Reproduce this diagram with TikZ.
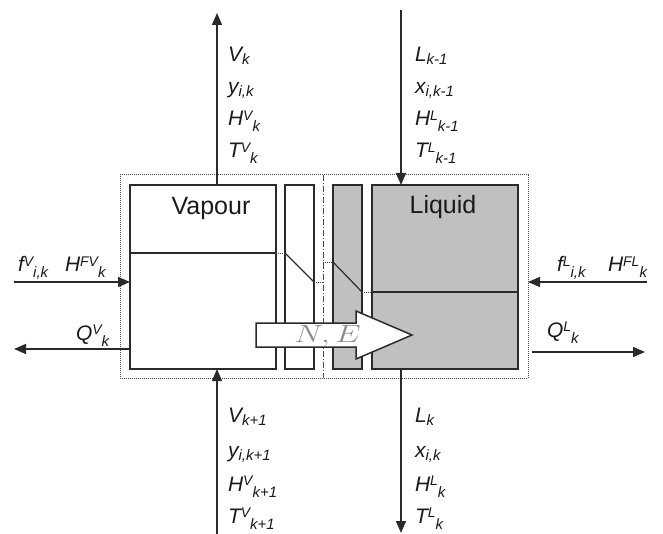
\documentclass[tikz,border=0pt]{standalone}
\usepackage{fontspec}
\setmainfont{Liberation Sans}
\usetikzlibrary{arrows.meta}
\definecolor{linec}{HTML}{2A2A2A}
\definecolor{txtc}{HTML}{1A1A1A}
\definecolor{grayfill}{HTML}{C0C0C0}
\definecolor{dotc}{HTML}{4A4A4A}
\newcommand{\ssub}[1]{\raisebox{-3pt}{\fontsize{15}{15}\selectfont #1}}
\newcommand{\dsub}[1]{\raisebox{-6pt}{\fontsize{15}{15}\selectfont #1}}
\newcommand{\ssup}[1]{\raisebox{5.5pt}{\fontsize{14}{14}\selectfont #1}}
\begin{document}
\begin{tikzpicture}[x=1pt,y=-1pt,
  box/.style={draw=linec, line width=1.5pt, inner sep=0pt, outer sep=0pt, minimum height=184pt},
  arr/.style={draw=linec, line width=1.4pt, -{Triangle[length=12pt,width=10pt]}},
  prof/.style={draw=linec, line width=1.2pt},
  dotl/.style={draw=dotc, line width=0.9pt, densely dotted},
  lbl/.style={anchor=base west, inner sep=0pt, outer sep=0pt, text=txtc, font=\fontsize{21}{24}\selectfont\itshape},
  phase/.style={anchor=base, inner sep=0pt, text=txtc, font=\fontsize{25}{28}\selectfont}]
\useasboundingbox (0,0) rectangle (663,534);
% outer control volume
\node[draw=dotc, line width=1pt, densely dotted, inner sep=0pt, outer sep=0pt,
  minimum width=408pt, minimum height=203pt] (outer) at (324,276.5) {};
% interface dash-dot line
\coordinate (ifc) at (323,276);
\draw[draw=dotc, line width=1pt, dash pattern=on 6pt off 2pt on 1pt off 2pt] (ifc |- outer.north) -- (ifc |- outer.south);
% boxes
\node[box, minimum width=146pt] (vap) at (203,277) {};
\node[box, minimum width=29pt] (film1) at (299.5,277) {};
\node[box, fill=grayfill, minimum width=29pt] (film2) at (347.5,277) {};
\node[box, fill=grayfill, minimum width=146pt] (liq) at (445,277) {};
% phase labels
\node[phase] (vlab) at (211,215) {Vapour};
\node[phase] (llab) at (443,214) {Liquid};
% concentration profile
\coordinate (pv) at (0,253);
\coordinate (pl) at (0,292);
\draw[prof] (vap.west |- pv) -- (vap.east |- pv);
\draw[dotl] (vap.east |- pv) -- (film1.west |- pv);
\draw[prof] (film1.west |- pv) -- (film1.east |- 0,282);
\draw[dotl] (film1.east |- 0,282) -- (ifc |- 0,282);
\draw[dotl] (ifc |- 0,262) -- (film2.west |- 0,262);
\draw[prof] (film2.west |- 0,262) -- (film2.east |- pl);
\draw[dotl] (film2.east |- pl) -- (liq.west |- pl);
\draw[prof] (liq.west |- pl) -- (liq.east |- pl);
% flux arrow
\draw[draw=linec, line width=1.5pt, fill=white] (256,323) -- (356,323) -- (356,311) -- (412,335) -- (356,359) -- (356,347) -- (256,347) -- cycle;
\node[inner sep=0pt, text=black!45, font=\fontsize{31}{31}\selectfont] (ne) at (327.5,336) {\scalebox{1.3}[1]{$N,E$}};
% stream arrows
\coordinate (vtop) at (217,13);
\coordinate (ltop) at (401,10);
\coordinate (vbot) at (217,534);
\coordinate (lbot) at (401,533);
\coordinate (fvin) at (14,282);
\coordinate (qvout) at (14,349);
\coordinate (flin) at (647,282);
\coordinate (qlout) at (645,352);
\draw[arr] (vap.north -| vtop) -- (vtop);
\draw[arr] (ltop) -- (ltop |- liq.north);
\draw[arr] (vbot) -- (vbot |- vap.south);
\draw[arr] (lbot |- liq.south) -- (lbot);
\draw[arr] (fvin) -- (fvin -| vap.west);
\draw[arr] (qvout -| vap.west) -- (qvout);
\draw[arr] (flin) -- (flin -| outer.east);
\draw[arr] ([xshift=4pt]qlout -| outer.east) -- (qlout);
% top labels
\node[lbl] (t1) at (228,62) {V\ssub{k}};
\node[lbl] (t2) at (228,94) {y\ssub{i,k}};
\node[lbl] (t3) at (228,126) {H\ssup{V}\dsub{k}};
\node[lbl] (t4) at (228,158) {T\ssup{V}\dsub{k}};
\node[lbl] (t5) at (415,62) {L\ssub{k-1}};
\node[lbl] (t6) at (415,94) {x\ssub{i,k-1}};
\node[lbl] (t7) at (415,126) {H\ssup{L}\dsub{k-1}};
\node[lbl] (t8) at (415,158) {T\ssup{L}\dsub{k-1}};
% bottom labels
\node[lbl] (b1) at (228,422) {V\ssub{k+1}};
\node[lbl] (b2) at (228,457) {y\ssub{i,k+1}};
\node[lbl] (b3) at (228,491) {H\ssup{V}\dsub{k+1}};
\node[lbl] (b4) at (228,523) {T\ssup{V}\dsub{k+1}};
\node[lbl] (b5) at (415,422) {L\ssub{k}};
\node[lbl] (b6) at (415,457) {x\ssub{i,k}};
\node[lbl] (b7) at (415,491) {H\ssup{L}\dsub{k}};
\node[lbl] (b8) at (415,523) {T\ssup{L}\dsub{k}};
% side labels
\node[lbl] (s1) at (18,272) {f\ssup{V}\dsub{i,k}};
\node[lbl] (s2) at (65,272) {H\ssup{FV}\dsub{k}};
\node[lbl] (s3) at (76,340) {Q\ssup{V}\dsub{k}};
\node[lbl] (s4) at (557,272) {f\ssup{L}\dsub{i,k}};
\node[lbl] (s5) at (608,272) {H\ssup{FL}\dsub{k}};
\node[lbl] (s6) at (547,337) {Q\ssup{L}\dsub{k}};
\end{tikzpicture}
\end{document}
